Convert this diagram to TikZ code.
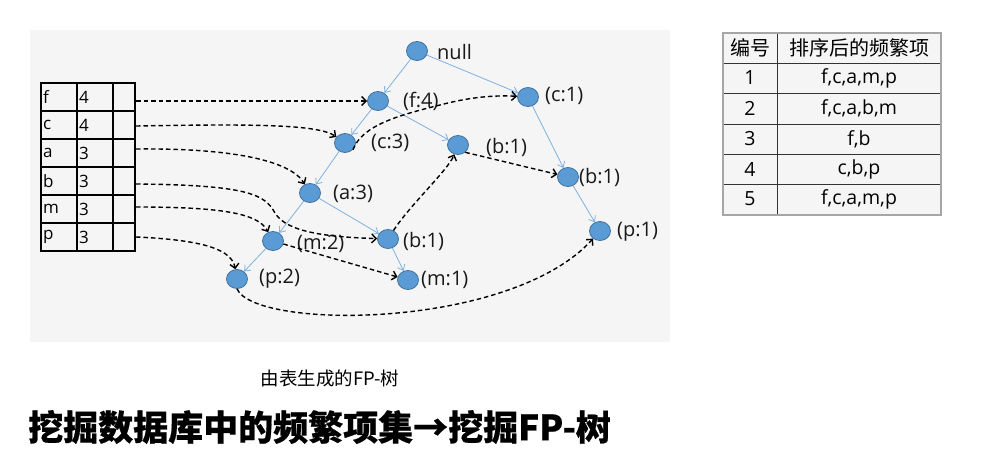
\documentclass[tikz,border=0pt]{standalone}
\usepackage{fontspec}
\setmainfont{Noto Sans CJK SC}[BoldFeatures={FakeBold=0.6}]
\newfontfamily\lat{Open Sans}
\usetikzlibrary{arrows.meta,shapes.geometric}
\definecolor{nodefill}{HTML}{5B9BD5}
\definecolor{nodeline}{HTML}{41719C}
\definecolor{treeline}{HTML}{7EB0E0}
\definecolor{bgfill}{HTML}{F5F5F5}
\definecolor{tabline}{HTML}{333333}
\definecolor{tabframe}{HTML}{A6A6A6}
\tikzset{
  tn/.style={ellipse, fill=nodefill, draw=nodeline, line width=0.8pt, minimum width=21pt, minimum height=19pt, inner sep=0pt},
  lbl/.style={font=\lat\fontsize{20}{20}\selectfont, inner sep=0pt, anchor=west, text=black!90},
  cell/.style={font=\lat\fontsize{17}{17}\selectfont, inner sep=0pt, anchor=west},
  rcell/.style={font=\lat\fontsize{19.5}{19.5}\selectfont, inner sep=0pt},
  rhead/.style={font=\fontsize{20}{20}\selectfont, inner sep=0pt},
  tree/.style={draw=treeline, line width=0.8pt, -{Straight Barb[length=5pt,width=8pt]}},
  link/.style={draw=black, line width=1.4pt, dash pattern=on 4.5pt off 3pt, -{Straight Barb[length=4.5pt,width=9pt]}},
}
\begin{document}
\begin{tikzpicture}[x=1pt,y=-1pt]
\useasboundingbox (0,0) rectangle (986,461);
\fill[white] (0,0) rectangle (986,461);
\fill[bgfill] (30,30) rectangle (670,342);
\fill[bgfill] (723,33) rectangle (941,215);

% left header table
\draw[line width=1.2pt] (41,83) rectangle (135,251);
\foreach \yy in {111,139,167,195,223} \draw[line width=1.2pt] (41,\yy) -- (135,\yy);
\foreach \xx in {77,113} \draw[line width=1.2pt] (\xx,83) -- (\xx,251);
\node[cell] (tf) at (43,97) {f};   \node[cell] (tf4) at (79,97) {4};
\node[cell] (tc) at (43,125) {c};  \node[cell] (tc4) at (79,125) {4};
\node[cell] (ta) at (43,153) {a};  \node[cell] (ta3) at (79,153) {3};
\node[cell] (tb) at (43,181) {b};  \node[cell] (tb3) at (79,181) {3};
\node[cell] (tm) at (43,209) {m};  \node[cell] (tm3) at (79,209) {3};
\node[cell] (tp) at (43,237) {p};  \node[cell] (tp3) at (79,237) {3};
\coordinate (rf) at (136,101);
\coordinate (rc) at (136,126);
\coordinate (ra) at (136,149);
\coordinate (rb) at (136,184);
\coordinate (rm) at (136,207);
\coordinate (rp) at (136,237);

% tree nodes
\node[tn] (null) at (417,51) {};
\node[tn] (f4) at (378,101) {};
\node[tn] (c1) at (528,97) {};
\node[tn] (c3) at (345,143) {};
\node[tn] (b1a) at (458,145) {};
\node[tn] (b1b) at (568,177) {};
\node[tn] (a3) at (310,193) {};
\node[tn] (b1c) at (388,239) {};
\node[tn] (m2) at (273,241) {};
\node[tn] (p1) at (600,231) {};
\node[tn] (p2) at (237,279) {};
\node[tn] (m1) at (408,280) {};

% labels
\node[lbl] (lnull) at (437,52) {null};
\node[lbl] (lf4) at (403,101) {(f:4)};
\node[lbl] (lc1) at (545,96) {(c:1)};
\node[lbl] (lc3) at (371,143) {(c:3)};
\node[lbl] (lb1a) at (486,147) {(b:1)};
\node[lbl] (lb1b) at (579,177) {(b:1)};
\node[lbl] (la3) at (333,194) {(a:3)};
\node[lbl] (lb1c) at (403,241) {(b:1)};
\node[lbl] (lm2) at (297,244) {(m:2)};
\node[lbl] (lp1) at (617,232) {(p:1)};
\node[lbl] (lp2) at (259,279) {(p:2)};
\node[lbl] (lm1) at (421,280) {(m:1)};

% tree edges
\draw[tree] (null) -- (f4);
\draw[tree] (null) -- (c1);
\draw[tree] (f4) -- (c3);
\draw[tree] (f4) -- (b1a);
\draw[tree] (c3) -- (a3);
\draw[tree] (a3) -- (m2);
\draw[tree] (a3) -- (b1c);
\draw[tree] (m2) -- (p2);
\draw[tree] (b1c) -- (m1);
\draw[tree] (c1) -- (b1b);
\draw[tree] (b1b) -- (p1);

% node links
\draw[link] (rf) -- (f4);
\draw[link] (rc) .. controls (250,124) and (318,124) .. (c3);
\draw[link] (ra) .. controls (230,148) and (290,160) .. (a3);
\draw[link] (rb) .. controls (250,185) and (265,195) .. (275,213) .. controls (287,233) and (330,237) .. (b1c);
\draw[link] (rm) .. controls (220,207) and (258,213) .. (m2);
\draw[link] (rp) .. controls (205,240) and (232,250) .. (p2);
\draw[link] (c3.-40) .. controls (362,125) and (400,115) .. (440,105) .. controls (470,97) and (495,95) .. (c1);
\draw[link] (b1c) .. controls (410,205) and (448,170) .. (b1a);
\draw[link] (b1a.-45) -- (b1b);
\draw[link] (m2) -- (m1);
\draw[link] (p2.south) .. controls (255,330) and (510,330) .. (p1);

% right table
\foreach \yy in {63,93,124,154,184} \draw[tabline, line width=1pt] (723,\yy) -- (941,\yy);
\draw[tabline, line width=1pt] (777,33) -- (777,215);
\draw[tabframe, line width=1.6pt] (723,33) rectangle (941,215);
\node[rhead] (h1) at (750,48) {编号};
\node[rhead] (h2) at (859,48) {排序后的频繁项};
\node[rcell] (n1) at (750,78) {1};  \node[rcell] (s1) at (859,78) {f,c,a,m,p};
\node[rcell] (n2) at (750,108) {2}; \node[rcell] (s2) at (859,108) {f,c,a,b,m};
\node[rcell] (n3) at (750,139) {3}; \node[rcell] (s3) at (859,139) {f,b};
\node[rcell] (n4) at (750,169) {4}; \node[rcell] (s4) at (859,169) {c,b,p};
\node[rcell] (n5) at (750,199) {5}; \node[rcell] (s5) at (859,199) {f,c,a,m,p};

% captions
\node[font=\fontsize{18.5}{18.5}\selectfont, inner sep=0pt] (cap) at (330,378) {由表生成的FP-树};
\node[font=\bfseries\fontsize{35}{35}\selectfont, inner sep=0pt, anchor=west] (title) at (28,427) {挖掘数据库中的频繁项集→挖掘FP-树};
\end{tikzpicture}
\end{document}
